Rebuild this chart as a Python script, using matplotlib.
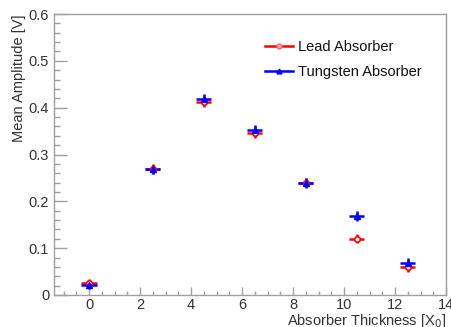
import matplotlib
matplotlib.use("Agg")
import matplotlib.pyplot as plt
from matplotlib.ticker import MultipleLocator
from matplotlib.lines import Line2D

plt.rcParams['font.family'] = ['Liberation Sans', 'DejaVu Sans']

thickness = [0, 2.5, 4.5, 6.5, 8.5, 10.5, 12.5]
lead = [0.025, 0.269, 0.412, 0.345, 0.240, 0.120, 0.060]
tungsten = [0.022, 0.268, 0.419, 0.352, 0.239, 0.169, 0.068]
x_err = [0.3] * 7
lead_err = [0.010] * 7
tungsten_err = [0.010] * 7

fig = plt.figure(figsize=(4.51, 3.27), dpi=100)
ax = fig.add_axes([54/451, 1 - 295/327, (446-54)/451, (295-14)/327])

ax.errorbar(thickness, lead, xerr=x_err, yerr=lead_err, fmt='o', color='#ff0000',
            mfc='white', mec='#ff0000', ms=4, elinewidth=1.8, capsize=0, mew=1.2)
ax.errorbar(thickness, tungsten, xerr=x_err, yerr=tungsten_err, fmt='^', color='#0000ff',
            ms=4, elinewidth=1.8, capsize=0)

ax.set_xlim(-1.375, 14)
ax.set_ylim(0, 0.6)
ax.xaxis.set_major_locator(MultipleLocator(2))
ax.xaxis.set_minor_locator(MultipleLocator(0.5))
ax.yaxis.set_minor_locator(MultipleLocator(0.02))
ax.set_yticks([0, 0.1, 0.2, 0.3, 0.4, 0.5, 0.6])
ax.set_yticklabels(['0', '0.1', '0.2', '0.3', '0.4', '0.5', '0.6'])

axis_col = '#a0a0a0'
text_col = '#333333'
for s in ax.spines.values():
    s.set_color(axis_col)
    s.set_linewidth(1.0)
ax.tick_params(which='both', direction='in', top=False, right=False, colors=axis_col,
               labelcolor=text_col, labelsize=10.5)
ax.tick_params(which='major', length=9, width=1.0)
ax.tick_params(which='minor', length=4.5, width=1.0)
ax.tick_params(axis='x', which='major', length=6, pad=2)
ax.tick_params(axis='x', which='minor', length=3)

ax.set_xlabel('Absorber Thickness [X$_0$]', fontsize=10.5, color=text_col, loc='right', labelpad=0)
ax.set_ylabel('Mean Amplitude [V]', fontsize=10.5, color=text_col, loc='top', labelpad=2)

handles = [
    Line2D([], [], color='#ff0000', lw=1.8, marker='o', ms=3.5, mfc='#ffaaaa', mec='#ff6666'),
    Line2D([], [], color='#0000ff', lw=1.8, marker='^', ms=3.5),
]
leg = ax.legend(handles, ['Lead Absorber', 'Tungsten Absorber'], loc='upper left',
                bbox_to_anchor=(0.505, 0.955), frameon=False,
                fontsize=10.5, handlelength=1.9, handletextpad=0.35, labelspacing=0.75)
for t in leg.get_texts():
    t.set_color('#111111')

fig.savefig('out.png', dpi=100)
